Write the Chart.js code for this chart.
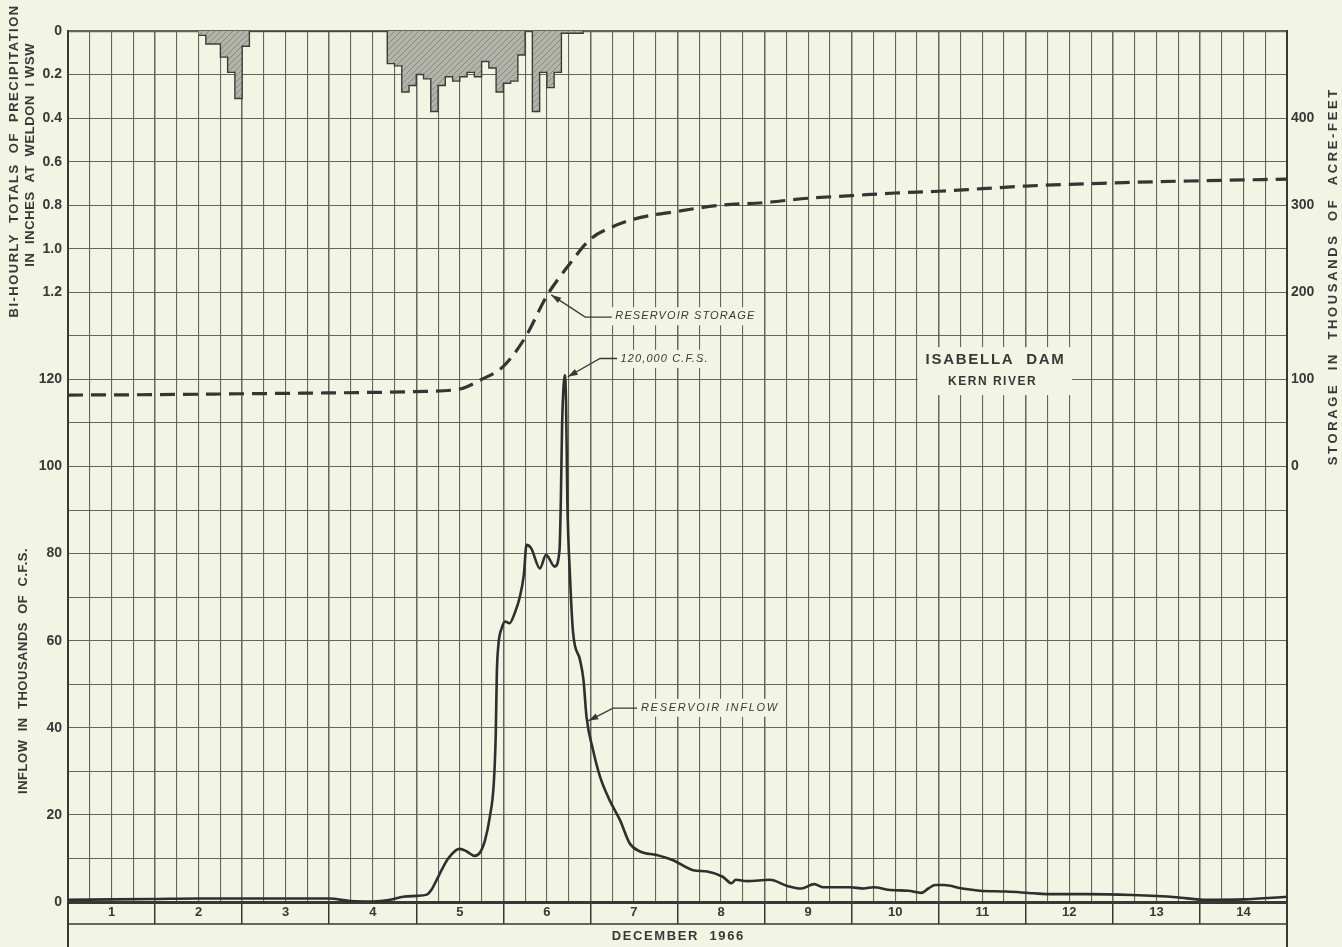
<!DOCTYPE html>
<html lang="en">
<head>
<meta charset="UTF-8">
<title>Isabella Dam - Kern River, December 1966</title>
<script src="https://cdn.jsdelivr.net/npm/chart.js"></script>
<style>
  html, body { margin: 0; padding: 0; background: #f2f4e4; }
</style>
</head>
<body>
<canvas id="flood" width="1342" height="947"></canvas>

<script>
  // time axis: days counted from 00:00 December 1 (0) to the end of December 14 (14)
  const dayLabels = ['1', '2', '3', '4', '5', '6', '7', '8', '9', '10', '11', '12', '13', '14'];
  const inflowTicks = [0, 20, 40, 60, 80, 100, 120];
  const precipTicks = ['0', '0.2', '0.4', '0.6', '0.8', '1.0', '1.2'];
  const storageTicks = [0, 100, 200, 300, 400];

  // reservoir inflow, thousands of c.f.s.
  const inflowDays = [0, 0.5, 1.0, 1.5, 2.0, 2.5, 3.0, 3.25, 3.5, 3.7, 3.85, 4.0, 4.12, 4.18, 4.22, 4.29, 4.36,
    4.45, 4.5, 4.58, 4.67, 4.73, 4.79, 4.845, 4.89, 4.913, 4.925, 4.945, 4.98, 5.02, 5.07, 5.13,
    5.19, 5.235, 5.266, 5.32, 5.42, 5.49, 5.59, 5.645, 5.66, 5.675, 5.69, 5.705, 5.72, 5.735, 5.765,
    5.80, 5.88, 5.92, 5.955, 6.03, 6.11, 6.22, 6.34, 6.45, 6.57, 6.76, 6.95, 7.18, 7.34, 7.52,
    7.62, 7.67, 7.8, 8.06, 8.26, 8.42, 8.57, 8.67, 8.98, 9.14, 9.25, 9.45, 9.65, 9.8, 9.88,
    9.96, 10.06, 10.27, 10.47, 10.78, 11.09, 11.3, 11.7, 12.22, 12.73, 13.04, 13.5, 14.0];
  const inflowCfs = [0.5, 0.6, 0.7, 0.8, 0.8, 0.8, 0.8, 0.2, 0.1, 0.5, 1.2, 1.4, 1.7, 3.0, 4.5, 7.3, 9.8,
    11.8, 12.2, 11.6, 10.6, 11.3, 14.2, 19.6, 27.2, 38.7, 52.5, 59.4, 62.8, 64.4, 64.0, 66.3,
    70.1, 75.1, 82.0, 81.2, 76.6, 79.7, 77.0, 80.8, 92, 110, 118, 121, 115, 92, 75,
    62, 55.6, 51, 42.5, 34.9, 28.8, 23.4, 18.8, 13.5, 11.6, 10.8, 9.6, 7.3, 7.0, 5.8,
    4.3, 5.1, 4.8, 5.1, 3.7, 3.1, 4.1, 3.4, 3.4, 3.1, 3.4, 2.75, 2.6, 2.1, 3.1,
    3.9, 3.9, 3.1, 2.6, 2.4, 2.0, 1.8, 1.8, 1.6, 1.1, 0.5, 0.6, 1.2];

  // reservoir storage, thousands of acre-feet
  const storageDays = [0, 1, 2, 3, 4, 4.5, 4.75, 5.0, 5.25, 5.5, 5.75, 6.0, 6.25, 6.5, 7.0, 7.5, 8.0,
    8.5, 9.0, 9.5, 10.0, 10.5, 11.0, 11.5, 12.0, 12.5, 13.0, 13.5, 14.0];
  const storageAf = [82, 82.5, 83.5, 84.5, 86, 89, 100, 115, 148, 196, 231, 261, 275, 284, 293, 300, 303,
    308, 311, 314, 316, 319, 322, 324, 325.5, 327, 328, 329, 330];

  // bi-hourly precipitation at Weldon 1 WSW, inches, starting noon Dec 2
  const precipStartDay = 1.5;
  const precipInches = [0.02, 0.06, 0.06, 0.12, 0.19, 0.31, 0.07,
    0, 0, 0, 0, 0, 0, 0, 0, 0, 0, 0, 0, 0, 0, 0, 0, 0, 0, 0,
    0.15, 0.16, 0.28, 0.25, 0.20, 0.22, 0.37, 0.25, 0.21, 0.23, 0.21, 0.19,
    0.21, 0.14, 0.17, 0.28, 0.24, 0.23, 0.11, 0, 0.37, 0.19, 0.26, 0.19,
    0.01, 0.01, 0.01, 0];

  const PAPER = '#f2f4e4';
  const INK = '#383936';
  const GRID = '#63655e';
  const FONT = '"Liberation Sans", Arial, sans-serif';

  const inflowPts = inflowDays.map((d, i) => ({ x: d, y: inflowCfs[i] }));
  const storagePts = storageDays.map((d, i) => ({ x: d, y: storageAf[i] }));
  const precipPts = precipInches.map((p, i) => ({ x: precipStartDay + i / 12, y: p }));

  const canvas = document.getElementById('flood');
  const ctx = canvas.getContext('2d');

  function hatchPattern() {
    const c = document.createElement('canvas');
    c.width = 6; c.height = 6;
    const g = c.getContext('2d');
    g.fillStyle = '#b2b4aa';
    g.fillRect(0, 0, 6, 6);
    g.strokeStyle = '#878a81';
    g.lineWidth = 1;
    g.beginPath();
    g.moveTo(0, 6); g.lineTo(6, 0);
    g.moveTo(-1, 1); g.lineTo(1, -1);
    g.moveTo(5, 7); g.lineTo(7, 5);
    g.stroke();
    return ctx.createPattern(c, 'repeat');
  }

  // text stretched to a given length, like the hand lettering
  function spacedText(c, text, cx, cy, len, font, rot) {
    c.save();
    c.translate(cx, cy);
    if (rot) c.rotate(rot);
    c.font = font;
    c.letterSpacing = '0px';
    const w = c.measureText(text).width;
    const ls = Math.max(0, (len - w) / text.length);
    c.letterSpacing = ls + 'px';
    c.textAlign = 'left';
    c.textBaseline = 'middle';
    c.fillText(text, -len / 2 + ls / 2, 0);
    c.restore();
  }

  function arrowHead(c, tip, from) {
    const a = Math.atan2(tip.y - from.y, tip.x - from.x);
    const L = 10, W = 3.2;
    c.beginPath();
    c.moveTo(tip.x, tip.y);
    c.lineTo(tip.x - L * Math.cos(a) + W * Math.sin(a), tip.y - L * Math.sin(a) - W * Math.cos(a));
    c.lineTo(tip.x - L * Math.cos(a) - W * Math.sin(a), tip.y - L * Math.sin(a) + W * Math.cos(a));
    c.closePath();
    c.fill();
  }

  const paper = {
    id: 'paper',
    beforeDraw(chart) {
      const c = chart.ctx;
      c.save();
      c.fillStyle = PAPER;
      c.fillRect(0, 0, chart.width, chart.height);
      c.restore();
    }
  };

  const notes = {
    id: 'notes',
    afterDatasetsDraw(chart) {
      const c = chart.ctx;
      const { x, y, yS } = chart.scales;
      const P = (d, v) => ({ x: x.getPixelForValue(d), y: y.getPixelForValue(v) });
      c.save();
      c.fillStyle = INK;
      c.strokeStyle = INK;
      c.lineWidth = 1.3;

      const callouts = [
        { text: 'RESERVOIR STORAGE', len: 140, tip: { x: x.getPixelForValue(5.55), y: yS.getPixelForValue(197) },
          bend: P(5.94, 134.3), at: P(6.28, 134.5) },
        { text: '120,000 C.F.S.', len: 88, tip: P(5.74, 120.6), bend: P(6.11, 124.8), at: P(6.34, 124.7) },
        { text: 'RESERVOIR INFLOW', len: 138, tip: P(5.975, 41.6), bend: P(6.26, 44.5), at: P(6.57, 44.6) }
      ];
      callouts.forEach(n => {
        c.fillStyle = PAPER;
        c.fillRect(n.at.x - 4, n.at.y - 9, n.len + 8, 18);
        c.fillStyle = INK;
        spacedText(c, n.text, n.at.x + n.len / 2, n.at.y, n.len, 'italic 11px ' + FONT, 0);
        c.beginPath();
        c.moveTo(n.at.x - 3, n.bend.y);
        c.lineTo(n.bend.x, n.bend.y);
        c.lineTo(n.tip.x, n.tip.y);
        c.stroke();
        arrowHead(c, n.tip, n.bend);
      });

      // title block
      const b0 = P(9.76, 127.4), b1 = P(11.53, 116.4);
      c.fillStyle = PAPER;
      c.fillRect(b0.x, b0.y, b1.x - b0.x, b1.y - b0.y);
      c.fillStyle = INK;
      const t1 = P(10.643, 124.4), t2 = P(10.61, 119.4);
      spacedText(c, 'ISABELLA  DAM', t1.x, t1.y, 140, 'bold 15px ' + FONT, 0);
      spacedText(c, 'KERN RIVER', t2.x, t2.y, 89, 'bold 12px ' + FONT, 0);
      c.restore();
    },
    afterDraw(chart) {
      const c = chart.ctx;
      const { left, right, bottom } = chart.chartArea;
      const { y, yS } = chart.scales;
      c.save();
      c.strokeStyle = INK;
      // frame of the date strip
      c.lineWidth = 1.5;
      c.beginPath();
      c.moveTo(left, bottom + 22); c.lineTo(right, bottom + 22);
      c.stroke();
      c.lineWidth = 2;
      c.beginPath();
      c.moveTo(left, bottom); c.lineTo(left, chart.height);
      c.moveTo(right, bottom); c.lineTo(right, chart.height);
      c.stroke();

      // axis titles
      c.fillStyle = INK;
      const f = 'bold 13px ' + FONT;
      spacedText(c, 'DECEMBER  1966', (left + right) / 2, bottom + 34, 133, f, 0);
      spacedText(c, 'BI-HOURLY  TOTALS  OF  PRECIPITATION', left - 54, y.getPixelForValue(170), 313, f, -Math.PI / 2);
      spacedText(c, 'IN  INCHES  AT  WELDON  I WSW', left - 38, y.getPixelForValue(171.5), 224, f, -Math.PI / 2);
      spacedText(c, 'INFLOW  IN  THOUSANDS  OF  C.F.S.', left - 45, y.getPixelForValue(53), 246, f, -Math.PI / 2);
      spacedText(c, 'STORAGE  IN  THOUSANDS  OF  ACRE-FEET', right + 46, yS.getPixelForValue(217), 378, f, -Math.PI / 2);
      c.restore();
    }
  };

  Chart.defaults.font.family = FONT;
  Chart.defaults.color = INK;

  const isDay = v => Math.abs(v - Math.round(v)) < 1e-6;

  // the left axis carries both scales: inflow below, precipitation (downward from the top) above
  function leftLabel(v) {
    if (inflowTicks.includes(v)) return String(v);
    const k = Math.round((200 - v) / 10);
    if (v >= 140 && k < precipTicks.length) return precipTicks[k];
    return '';
  }

  new Chart(ctx, {
    type: 'line',
    data: {
      datasets: [
        {
          label: 'Precipitation',
          data: precipPts,
          yAxisID: 'yP',
          stepped: true,
          fill: 'origin',
          backgroundColor: hatchPattern(),
          borderColor: '#3c3d3a',
          borderWidth: 1.4,
          pointRadius: 0
        },
        {
          label: 'Reservoir storage',
          data: storagePts,
          yAxisID: 'yS',
          borderColor: '#353633',
          borderWidth: 3.2,
          borderDash: [15, 8],
          cubicInterpolationMode: 'monotone',
          pointRadius: 0,
          fill: false
        },
        {
          label: 'Reservoir inflow',
          data: inflowPts,
          yAxisID: 'y',
          borderColor: '#2f302d',
          borderWidth: 2.6,
          cubicInterpolationMode: 'monotone',
          pointRadius: 0,
          fill: false
        }
      ]
    },
    options: {
      responsive: false,
      animation: false,
      events: [],
      layout: { padding: { top: 31, left: 0, right: 0, bottom: 0 } },
      plugins: {
        legend: { display: false },
        tooltip: { enabled: false }
      },
      scales: {
        x: {
          type: 'linear',
          min: 0,
          max: 14,
          afterFit: s => { s.height = 45; },
          grid: {
            color: GRID,
            lineWidth: c => isDay(c.tick.value) ? 1.5 : 1.1,
            tickLength: 22,
            tickWidth: 1.5,
            tickColor: c => isDay(c.tick.value) ? INK : 'rgba(0,0,0,0)'
          },
          border: { color: INK, width: 3 },
          ticks: {
            stepSize: 0.25,
            autoSkip: false,
            maxRotation: 0,
            padding: -19,
            font: { size: 13, weight: 'bold' },
            callback: v => (v % 1 === 0.5) ? dayLabels[Math.floor(v)] : ''
          }
        },
        y: {
          position: 'left',
          min: 0,
          max: 200,
          afterFit: s => { s.width = 68; },
          grid: {
            color: GRID,
            lineWidth: c => c.tick.value === 200 ? 2.2 : 1.1,
            drawTicks: false
          },
          border: { color: INK, width: 2 },
          ticks: {
            stepSize: 10,
            padding: 6,
            font: { size: 14, weight: 'bold' },
            callback: leftLabel
          }
        },
        yP: {
          display: false,
          reverse: true,
          min: 0,
          max: 4
        },
        yS: {
          position: 'right',
          min: -500,
          max: 500,
          afterFit: s => { s.width = 55; },
          grid: { display: false, drawTicks: false },
          border: { color: INK, width: 2 },
          ticks: {
            stepSize: 50,
            padding: 4,
            font: { size: 14, weight: 'bold' },
            callback: v => storageTicks.includes(v) ? String(v) : ''
          }
        }
      }
    },
    plugins: [paper, notes]
  });
</script>
</body>
</html>
